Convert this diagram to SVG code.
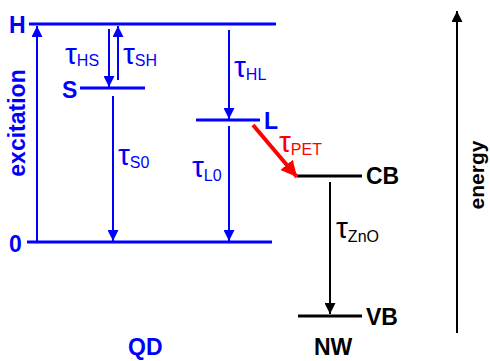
<svg xmlns="http://www.w3.org/2000/svg" width="490" height="361" viewBox="0 0 490 361">
<style>
text{font-family:"Liberation Sans",Arial,sans-serif}
.lvb{stroke:#0000ff;stroke-width:3;fill:none}
.lvk{stroke:#000;stroke-width:3;fill:none}
.bl{fill:#0000ff}
.bk{fill:#000}
.lab{font-weight:bold;font-size:23px}
.tau{font-size:30px}
.sub{font-size:16px}
.ab{stroke:#0000ff;stroke-width:2;fill:none;marker-end:url(#mb)}
.ak{stroke:#000;stroke-width:2;fill:none;marker-end:url(#mk)}
</style>
<defs>
<marker id="mb" markerUnits="userSpaceOnUse" markerWidth="11" markerHeight="11" refX="11" refY="5.5" orient="auto" viewBox="0 0 11 11"><path d="M0,0 L11,5.5 L0,11 z" fill="#0000ff"/></marker>
<marker id="mk" markerUnits="userSpaceOnUse" markerWidth="11" markerHeight="11" refX="11" refY="5.5" orient="auto" viewBox="0 0 11 11"><path d="M0,0 L11,5.5 L0,11 z" fill="#000"/></marker>
<marker id="mr" markerUnits="userSpaceOnUse" markerWidth="16" markerHeight="16" refX="16" refY="8" orient="auto" viewBox="0 0 16 16"><path d="M0,0 L16,8 L0,16 z" fill="#ff0000"/></marker>
</defs>
<rect width="490" height="361" fill="#fff"/>

<g id="level-H"><line class="lvb" x1="29" y1="24" x2="276" y2="24"/><text class="lab bl" x="9" y="33">H</text></g>
<g id="level-S"><line class="lvb" x1="80" y1="88" x2="145" y2="88"/><text class="lab bl" x="62" y="98">S</text></g>
<g id="level-L"><line class="lvb" x1="196" y1="120" x2="260" y2="120"/><text class="lab bl" x="264" y="129">L</text></g>
<g id="level-0"><line class="lvb" x1="27" y1="242" x2="272" y2="242"/><text class="lab bl" x="9" y="252">0</text></g>
<g id="level-CB"><line class="lvk" x1="297" y1="176" x2="362" y2="176"/><text class="lab bk" x="366" y="184">CB</text></g>
<g id="level-VB"><line class="lvk" x1="298" y1="316" x2="362" y2="316"/><text class="lab bk" x="366" y="325">VB</text></g>

<g id="connectors">
<line class="ab" x1="37" y1="242" x2="37" y2="26"/>
<line class="ab" x1="109" y1="29" x2="109" y2="87"/>
<line class="ab" x1="118" y1="80" x2="118" y2="26"/>
<line class="ab" x1="113" y1="96" x2="113" y2="241"/>
<line class="ab" x1="229" y1="30" x2="229" y2="119"/>
<line class="ab" x1="229" y1="126" x2="229" y2="241"/>
<line stroke="#ff0000" stroke-width="4" x1="253" y1="125" x2="297" y2="177" marker-end="url(#mr)"/>
<line class="ak" x1="330" y1="182" x2="330" y2="314"/>
<line stroke="#000" stroke-width="2" x1="457" y1="333" x2="457" y2="11" marker-end="url(#mk)"/>
</g>

<g id="labels">
<text class="bl" x="65" y="64"><tspan class="tau">τ</tspan><tspan class="sub" dy="2">HS</tspan></text>
<text class="bl" x="123" y="64"><tspan class="tau">τ</tspan><tspan class="sub" dy="2">SH</tspan></text>
<text class="bl" x="234" y="77"><tspan class="tau">τ</tspan><tspan class="sub" dy="3">HL</tspan></text>
<text class="bl" x="118" y="165"><tspan class="tau">τ</tspan><tspan class="sub" dy="3">S0</tspan></text>
<text class="bl" x="192" y="177"><tspan class="tau">τ</tspan><tspan class="sub" dy="4">L0</tspan></text>
<text fill="#ff0000" x="279" y="152"><tspan class="tau">τ</tspan><tspan class="sub" dy="3">PET</tspan></text>
<text class="bk" x="336" y="238"><tspan class="tau">τ</tspan><tspan class="sub" dy="4">ZnO</tspan></text>
<text class="bl" font-weight="bold" font-size="23" transform="translate(25,123) rotate(-90)" text-anchor="middle">excitation</text>
<text class="bk" font-weight="bold" font-size="21" transform="translate(484,175) rotate(-90)" text-anchor="middle">energy</text>
<text class="lab bl" x="128" y="355">QD</text>
<text class="lab bk" x="314" y="355">NW</text>
</g>
</svg>
